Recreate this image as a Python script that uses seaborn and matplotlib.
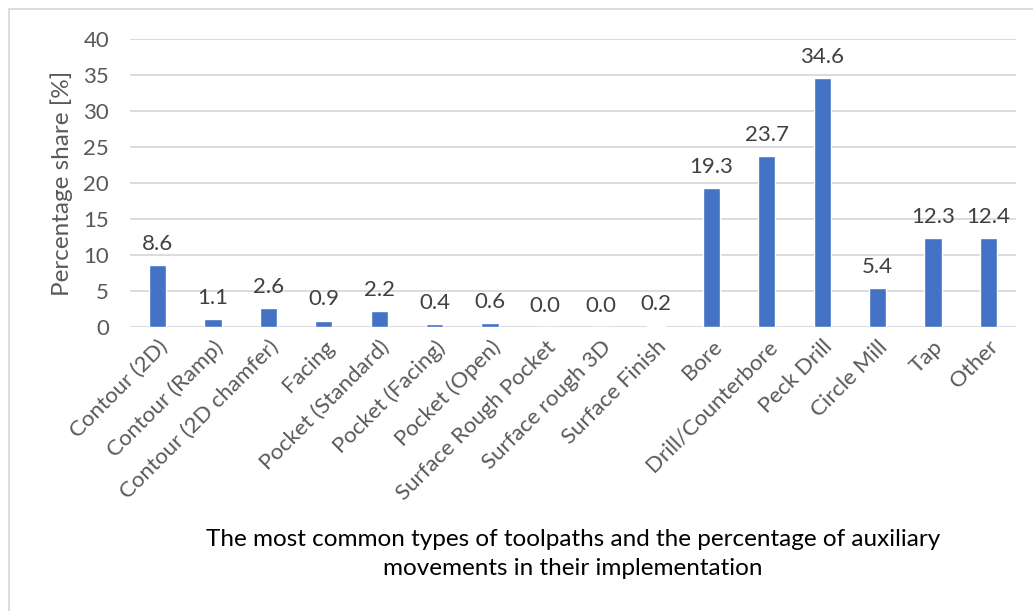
import matplotlib
matplotlib.use("Agg")
import matplotlib.pyplot as plt
import seaborn as sns
import pandas as pd
from matplotlib.patches import Rectangle

categories = [
    "Contour (2D)", "Contour (Ramp)", "Contour (2D chamfer)", "Facing",
    "Pocket (Standard)", "Pocket (Facing)", "Pocket (Open)", "Surface Rough Pocket",
    "Surface rough 3D", "Surface Finish", "Bore", "Drill/Counterbore",
    "Peck Drill", "Circle Mill", "Tap", "Other",
]
shares = [8.6, 1.1, 2.6, 0.9, 2.2, 0.4, 0.6, 0.0, 0.0, 0.2, 19.3, 23.7, 34.6, 5.4, 12.3, 12.4]
y_ticks = [0, 5, 10, 15, 20, 25, 30, 35, 40]

x_title = ("The most common types of toolpaths and the percentage of auxiliary\n"
           "movements in their implementation")
y_title = "Percentage share [%]"

sns.set_theme(style="white")
plt.rcParams["font.family"] = ["Lato", "DejaVu Sans"]

df = pd.DataFrame({"category": categories, "share": shares})

fig = plt.figure(figsize=(10.33, 6.11), dpi=100)
ax = fig.add_axes([130 / 1033, 1 - 327 / 611, (1016 - 130) / 1033, (327 - 39) / 611])

# outer chart frame (top and left edges visible)
fig.patches.append(Rectangle((9 / 1033, -0.1), 1.2, 1 - 9 / 611 + 0.1,
                             transform=fig.transFigure, fill=False,
                             edgecolor="#D9D9D9", linewidth=1.3, zorder=0))

sns.barplot(data=df, x="category", y="share", color="#4472C4", width=0.31,
            saturation=1, ax=ax, zorder=3)

ax.set_ylim(0, 40)
ax.set_yticks(y_ticks)
ax.set_xlim(-0.5, len(categories) - 0.5)
ax.yaxis.grid(True, color="#D9D9D9", linewidth=1.3, zorder=0)
ax.set_axisbelow(True)
for s in ax.spines.values():
    s.set_visible(False)
ax.tick_params(axis="both", length=0, colors="#595959", labelsize=16)
ax.tick_params(axis="y", pad=15)
ax.tick_params(axis="x", pad=7)
plt.setp(ax.get_xticklabels(), rotation=45, ha="right", rotation_mode="anchor")

for container in ax.containers:
    ax.bar_label(container, labels=[f"{v:.1f}" for v in shares], padding=8,
                 color="#404040", fontsize=16)

ax.set_xlabel(x_title, fontsize=17.5, color="black", linespacing=1.5)
ax.xaxis.set_label_coords(0.5, -0.70)
ax.xaxis.label.set_va("top")
ax.set_ylabel(y_title, fontsize=17.5, color="#595959")
ax.yaxis.set_label_coords(-0.064, 0.5)

fig.savefig("out.png", dpi=100, facecolor="white")
